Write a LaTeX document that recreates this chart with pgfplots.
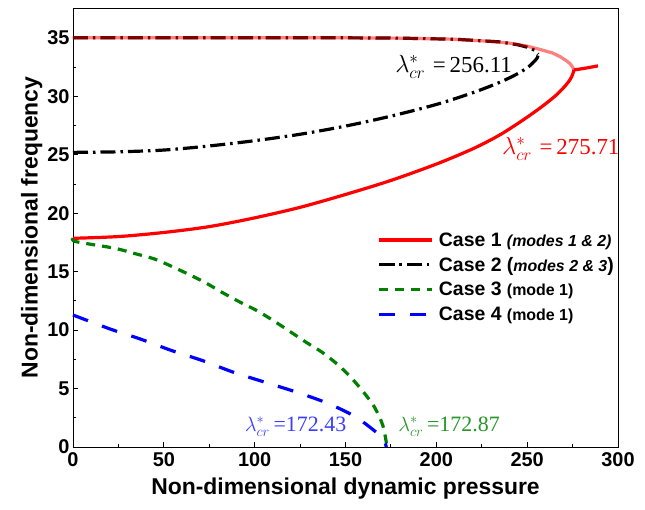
\documentclass[border=0pt]{standalone}
\usepackage{pgfplots}
\pgfplotsset{compat=1.18}
\usepackage{fontspec}
\setmainfont{Liberation Serif}
\setsansfont{Liberation Sans}
\usetikzlibrary{calc}
\definecolor{cgreen}{RGB}{0,128,0}
\definecolor{lblue}{RGB}{60,60,255}
\definecolor{lgreen}{RGB}{40,150,40}
\begin{document}
\begin{tikzpicture}
\begin{axis}[
  name=ax,
  scale only axis,
  width=545bp, height=439bp,
  xmin=0, xmax=300, ymin=0, ymax=37.55,
  xtick={0,50,...,300}, ytick={0,5,...,35},
  minor x tick num=1, minor y tick num=1,
  tick align=inside,
  xtick pos=bottom, ytick pos=left,
  major tick length=5bp, minor tick length=3bp,
  axis line style={line width=0.9bp},
  every tick/.style={line width=0.9bp, black},
  /pgf/number format/assume math mode=true,
  tick label style={font=\sffamily\bfseries\fontsize{20}{22}\selectfont},
  xticklabel style={yshift=-2bp},
  xlabel={Non-dimensional dynamic pressure},
  ylabel={Non-dimensional frequency},
  label style={font=\sffamily\bfseries\fontsize{23}{25}\selectfont},
  xlabel style={yshift=-4bp},
  ylabel style={yshift=-2bp},
  legend style={at={(axis cs:166,18.7)}, anchor=north west, draw=none, fill=none,
    font=\sffamily\bfseries\fontsize{19.5}{22}\selectfont,
    row sep=5.5bp, cells={anchor=west}},
  legend cell align=left,
  legend image code/.code={\draw[#1] plot coordinates {(0bp,0bp) (26bp,0bp) (52bp,0bp)};},
  clip=false,
]
% black upper branch
\addplot[black, line width=3.2bp, dash pattern=on 15bp off 5bp on 2.5bp off 5bp, forget plot] coordinates {
(0,35.0) (50,35.0) (100,35.0) (150,35.0) (180,34.97) (210,34.88) (235,34.65) (245,34.4) (250,34.2) (254,33.95) (256.11,33.6)};
% red lower branch
\addplot[red, line width=3.2bp, smooth, tension=0.5] coordinates {
(0,17.85) (25,18.0) (50,18.35) (75,18.85) (100,19.6) (125,20.5) (150,21.6) (175,22.8) (200,24.2) (220,25.5) (235,26.7) (248,28.0) (258,29.1) (266,30.1) (271,30.9) (273.5,31.4) (275,31.85) (275.71,32.25)};
\addlegendentry{\hspace{4bp}Case 1 {\fontsize{16}{18}\selectfont\itshape (modes 1 \& 2)}}
% black lower branch
\addplot[black, line width=3.2bp, dash pattern=on 15bp off 5bp on 2.5bp off 5bp, smooth, tension=0.5] coordinates {
(0,25.2) (25,25.25) (50,25.4) (75,25.75) (100,26.2) (125,26.75) (150,27.45) (175,28.3) (200,29.3) (220,30.3) (235,31.2) (245,31.95) (251,32.55) (254,33.0) (255.6,33.3) (256.11,33.6)};
\addlegendentry{\hspace{4bp}Case 2 ({\fontsize{16}{18}\selectfont\itshape modes 2 \& 3})}
% green
\addplot[cgreen, line width=3.2bp, dash pattern=on 9bp off 7bp, smooth, tension=0.5] coordinates {
(0,17.85) (1.8,17.56) (22.9,17.0) (33.4,16.57) (44.9,16.08) (53.6,15.5) (63.3,14.8) (72.5,14.09) (82,13.23) (92.1,12.38) (101.3,11.66) (110.4,10.8) (119.6,9.86) (128.4,8.95) (136.7,8.15) (144.9,7.16) (152.6,6.02) (160,4.68) (166,3.4) (170.6,1.82) (172.87,0)};
\addlegendentry{\hspace{4bp}Case 3 {\fontsize{16}{18}\selectfont (mode 1)}}
% blue
\addplot[blue, line width=3.2bp, dash pattern=on 16bp off 15bp, smooth, tension=0.5] coordinates {
(0,11.29) (20.5,10.09) (37,9.24) (54.5,8.24) (71.5,7.38) (88.4,6.39) (105.9,5.53) (123.3,4.68) (140.3,3.73) (155.9,2.54) (169.7,0.88) (172.43,0)};
\addlegendentry{\hspace{4bp}Case 4 {\fontsize{16}{18}\selectfont (mode 1)}}
% red upper branch (translucent)
\addplot[red, opacity=0.5, line width=3.2bp, forget plot] coordinates {
(0,35.0) (50,35.0) (100,35.0) (150,35.0) (180,34.97) (210,34.88) (229.5,34.7) (240,34.55) (249.7,34.3) (256,34.05) (264,33.7) (268,33.4) (271.5,33.05) (273.5,32.8) (275,32.5) (275.71,32.25)};
% red continuation
\addplot[red, line width=3.2bp, forget plot] coordinates {(275.71,32.25) (282,32.4) (289,32.6)};
% annotations
\node[black, font=\fontsize{23}{25}\selectfont] at (axis cs:209.5,32.5) {$\lambda^{*}_{cr}$\,\,=\,256.11};
\node[red, font=\fontsize{23}{25}\selectfont] at (axis cs:268.5,25.5) {$\lambda^{*}_{cr}$\,\,=\,275.71};
\node[lblue, font=\fontsize{22}{24}\selectfont] at (axis cs:122.5,1.75) {$\lambda^{*}_{cr}$\,=172.43};
\node[lgreen, font=\fontsize{22}{24}\selectfont] at (axis cs:207,1.75) {$\lambda^{*}_{cr}$\,=172.87};
\end{axis}
\pgfresetboundingbox
\path[use as bounding box] ($(ax.south west)+(-73bp,-62bp)$) rectangle ($(ax.north east)+(27bp,8bp)$);
\end{tikzpicture}
\end{document}
